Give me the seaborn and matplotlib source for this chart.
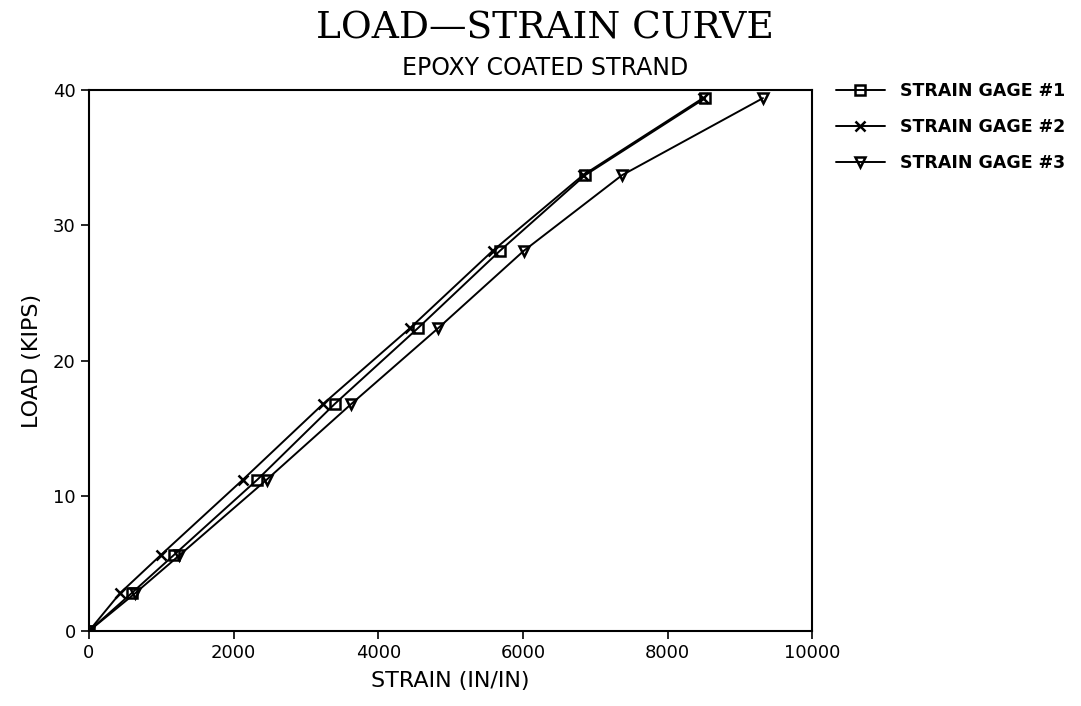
import matplotlib
matplotlib.use("Agg")
import matplotlib.pyplot as plt
import seaborn as sns
import pandas as pd

load = [0, 2.8, 5.6, 11.2, 16.8, 22.4, 28.1, 33.7, 39.4]
gage1 = [0, 590, 1170, 2330, 3400, 4550, 5680, 6860, 8520]
gage2 = [0, 430, 990, 2130, 3240, 4440, 5580, 6830, 8490]
gage3 = [0, 640, 1250, 2460, 3630, 4830, 6010, 7370, 9320]
names = ["STRAIN GAGE #1", "STRAIN GAGE #2", "STRAIN GAGE #3"]
xticks = [0, 2000, 4000, 6000, 8000, 10000]
yticks = [0, 10, 20, 30, 40]

sns.set_style("ticks")
plt.rcParams['font.family'] = ['DejaVu Sans']
plt.rcParams['text.color'] = 'black'
plt.rcParams['axes.labelcolor'] = 'black'
plt.rcParams['xtick.color'] = 'black'
plt.rcParams['ytick.color'] = 'black'

fig = plt.figure(figsize=(10.81, 7.06), dpi=100)
ax = fig.add_axes([0.0823, 0.1062, 0.669, 0.7663])

markers = ['s', 'x', 'v']
for name, vals, m in zip(names, [gage1, gage2, gage3], markers):
    df = pd.DataFrame({"strain": vals, "load": load})
    sns.lineplot(data=df, x="strain", y="load", ax=ax, color="black",
                 linewidth=1.4, marker=m, markersize=7, fillstyle='none',
                 markeredgewidth=1.8, markeredgecolor="black", label=name,
                 sort=False, legend=False)

ax.set_xlim(0, 10000)
ax.set_ylim(0, 40)
ax.set_xticks(xticks)
ax.set_yticks(yticks)
ax.tick_params(direction='out', length=6, width=1.2, labelsize=13, colors='black')
for s in ax.spines.values():
    s.set_linewidth(1.5)
    s.set_color('black')
ax.set_xlabel("STRAIN (IN/IN)", fontsize=16, labelpad=6)
ax.set_ylabel("LOAD (KIPS)", fontsize=16, labelpad=8)

fig.text(0.504, 0.96, "LOAD\u2014STRAIN CURVE", ha='center', va='center',
         fontsize=27, family='DejaVu Serif')
fig.text(0.504, 0.904, "EPOXY COATED STRAND", ha='center', va='center',
         fontsize=17)

handles = ax.get_lines()
fig.legend(handles, names, loc='upper left', bbox_to_anchor=(0.767, 0.894),
           frameon=False, prop={'size': 12.5, 'weight': 'bold'},
           handlelength=2.8, labelspacing=1.05,
           handletextpad=0.9, borderaxespad=0)

fig.savefig("out.png", dpi=100, facecolor='white')
